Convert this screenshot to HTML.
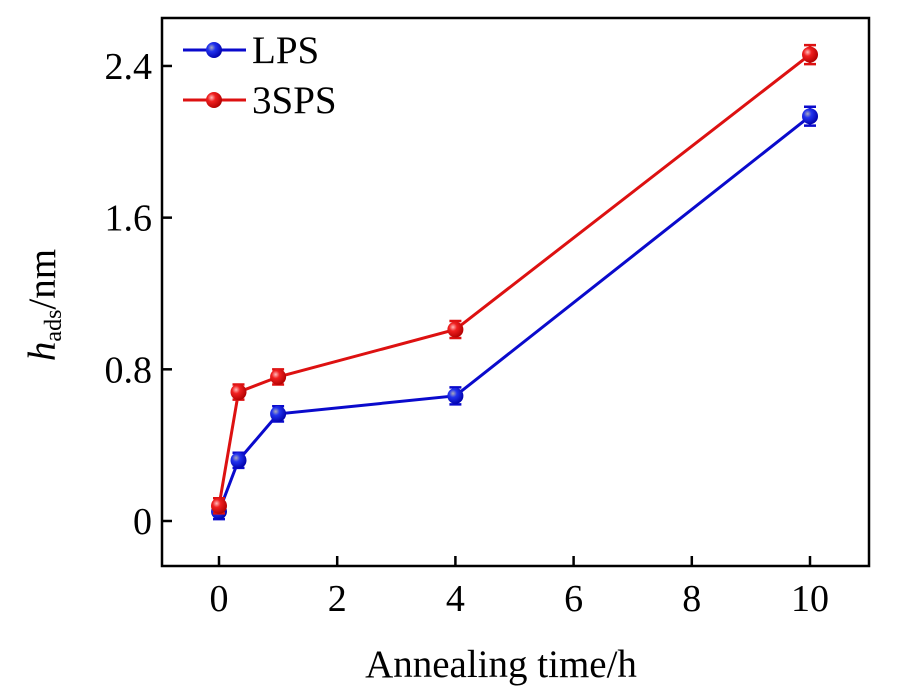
<!DOCTYPE html>
<html><head><meta charset="utf-8"><style>
body{margin:0;background:#fff;}
svg text{font-family:"Liberation Serif",serif;fill:#000;}
</style></head><body>
<svg id="chart" width="915" height="693" xmlns="http://www.w3.org/2000/svg">
<defs>
<radialGradient id="gb" cx="0.35" cy="0.35" r="0.7"><stop offset="0" stop-color="#aab"/><stop offset="0.35" stop-color="#2233ee"/><stop offset="1" stop-color="#0000aa"/></radialGradient>
<radialGradient id="gr" cx="0.35" cy="0.35" r="0.7"><stop offset="0" stop-color="#fbb"/><stop offset="0.35" stop-color="#f02020"/><stop offset="1" stop-color="#b00000"/></radialGradient>
</defs>
<g id="plot"></g>
</svg>
<script>
const xValues=[0,0.33,1,4,10];
const lpsValues=[0.05,0.32,0.565,0.66,2.135];
const spsValues=[0.08,0.68,0.76,1.01,2.46];
const errValues=[0.04,0.04,0.04,0.045,0.05];
const xTicks=[0,2,4,6,8,10];
const yTicks=[0,0.8,1.6,2.4];
const yTickLabels=["0","0.8","1.6","2.4"];

const L=162,R=869,T=18,B=566;
const xs=v=>219+v*59.1;
const ys=v=>521-v*189.6;
const NS="http://www.w3.org/2000/svg";
const g=document.getElementById('plot');
function mk(tag,attrs){const e=document.createElementNS(NS,tag);for(const k in attrs)e.setAttribute(k,attrs[k]);g.appendChild(e);return e;}

let f=mk('rect',{x:L,y:T,width:R-L,height:B-T,fill:'none',stroke:'#000','stroke-width':2.5});


xTicks.forEach(t=>{
 let l=mk('line',{x1:xs(t),x2:xs(t),y1:B,y2:B-10,stroke:'#000','stroke-width':2.5});
 
 
 let tx=mk('text',{x:xs(t),y:B+45,'text-anchor':'middle','font-size':38});
 tx.textContent=t;
 
 
});
yTicks.forEach((t,i)=>{
 let l=mk('line',{x1:L,x2:L+10,y1:ys(t),y2:ys(t),stroke:'#000','stroke-width':2.5});
 
 
 let tx=mk('text',{x:L-10,y:ys(t)+13,'text-anchor':'end','font-size':38});
 tx.textContent=yTickLabels[i];
 
 
});
let xt=mk('text',{x:501,y:677,'text-anchor':'middle','font-size':39});
xt.textContent='Annealing time/h';


let yt=mk('text',{transform:'translate(55,305) rotate(-90)','text-anchor':'middle','font-size':39});
yt.innerHTML='<tspan font-style="italic">h</tspan><tspan font-size="24" dy="6">ads</tspan><tspan dy="-6">/nm</tspan>';



function series(vals,color,grad,name){
 let p=mk('polyline',{points:xValues.map((x,i)=>xs(x)+','+ys(vals[i])).join(' '),fill:'none',stroke:color,'stroke-width':3});
 
 
 xValues.forEach((x,i)=>{
  const cx=xs(x),y1=ys(vals[i]+errValues[i]),y2=ys(vals[i]-errValues[i]);
  let e=mk('path',{d:`M${cx},${y1}V${y2}M${cx-6},${y1}H${cx+6}M${cx-6},${y2}H${cx+6}`,stroke:color,'stroke-width':2.5,fill:'none'});
  
  
  let c=mk('circle',{cx:cx,cy:ys(vals[i]),r:8,fill:`url(#${grad})`});
  
  
 });
}
series(lpsValues,'#0a0acc','gb','lps');
series(spsValues,'#dd1111','gr','3sps');

[['LPS','#0a0acc','gb',50],['3SPS','#dd1111','gr',100]].forEach(([n,c,gr,y])=>{
 let l=mk('line',{x1:183,x2:246,y1:y,y2:y,stroke:c,'stroke-width':3});
 
 
 let ci=mk('circle',{cx:214,cy:y,r:8,fill:`url(#${gr})`});
 
 
 let t=mk('text',{x:252,y:y+13,'font-size':39});
 t.textContent=n;
 
 
});
</script>
</body></html>
